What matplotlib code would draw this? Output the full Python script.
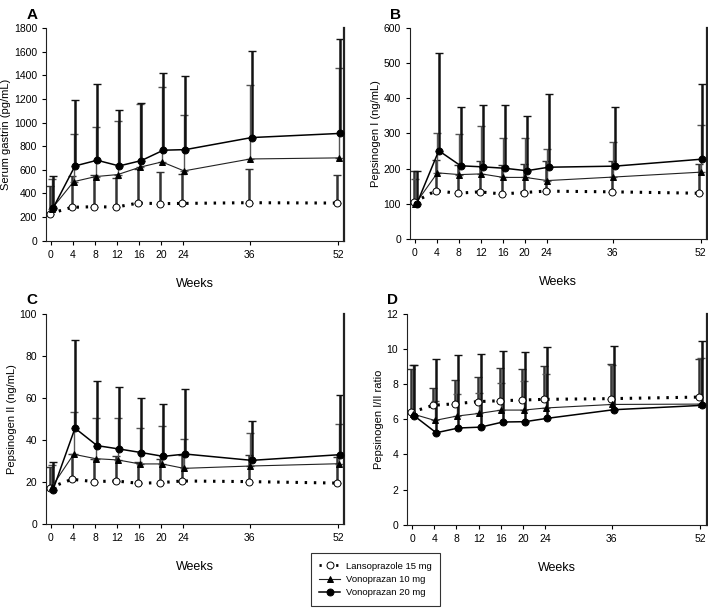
import numpy as np
import matplotlib
matplotlib.use("Agg")
import matplotlib.pyplot as plt
from matplotlib.lines import Line2D

plt.rcParams['font.family'] = ['Liberation Sans', 'DejaVu Sans']

weeks = [0, 4, 8, 12, 16, 20, 24, 36, 52]
week_labels = ['0', '4', '8', '12', '16', '20', '24', '36', '52']

# A - serum gastrin (pg/mL): mean and mean+SD
gastrin_lanso = [230, 283, 288, 285, 319, 314, 316, 322, 319]
gastrin_lanso_up = [465, 549, 560, 532, 610, 583, 566, 608, 558]
gastrin_v10 = [268, 500, 543, 560, 622, 667, 591, 692, 701]
gastrin_v10_up = [524, 900, 960, 1010, 1160, 1300, 1060, 1315, 1465]
gastrin_v20 = [274, 633, 681, 633, 678, 766, 771, 873, 908]
gastrin_v20_up = [549, 1190, 1325, 1110, 1165, 1420, 1395, 1605, 1705]

# B - pepsinogen I (ng/mL)
pg1_lanso = [104, 137, 130, 134, 128, 132, 136, 134, 130]
pg1_lanso_up = [193, 225, 210, 222, 210, 213, 222, 222, 212]
pg1_v10 = [100, 188, 183, 185, 175, 175, 166, 176, 190]
pg1_v10_up = [170, 300, 298, 320, 288, 286, 256, 275, 325]
pg1_v20 = [100, 251, 208, 205, 201, 194, 204, 207, 227]
pg1_v20_up = [193, 528, 375, 380, 382, 351, 413, 376, 440]

# C - pepsinogen II (ng/mL)
pg2_lanso = [17.3, 21.3, 20.2, 20.5, 19.4, 19.7, 20.5, 20.2, 19.5]
pg2_lanso_up = [27, 33.5, 31, 32.3, 29.7, 31, 33, 33, 32]
pg2_v10 = [17.5, 33.2, 31.1, 30.5, 28.6, 28.6, 26.5, 27.6, 28.7]
pg2_v10_up = [28, 53.3, 50.2, 50.3, 45.6, 46.5, 40.6, 43.5, 47.4]
pg2_v20 = [16.2, 45.6, 37.3, 35.7, 34.0, 32.2, 33.3, 30.3, 33.0]
pg2_v20_up = [29.5, 87.5, 68, 65, 60, 57, 64, 49, 61.5]

# D - pepsinogen I/II ratio
ratio_lanso = [6.39, 6.79, 6.88, 7.0, 7.05, 7.09, 7.13, 7.17, 7.26]
ratio_lanso_up = [8.85, 7.75, 8.25, 8.4, 8.9, 8.85, 9.0, 9.15, 9.4]
ratio_v10 = [6.3, 5.93, 6.18, 6.33, 6.52, 6.52, 6.64, 6.84, 6.86]
ratio_v10_up = [9.1, 7.05, 7.45, 7.5, 8.05, 8.2, 8.6, 9.1, 9.5]
ratio_v20 = [6.2, 5.23, 5.5, 5.55, 5.84, 5.86, 6.05, 6.54, 6.79]
ratio_v20_up = [9.1, 9.4, 9.65, 9.7, 9.9, 9.85, 10.1, 10.15, 10.45]

groups = ['Lansoprazole 15 mg', 'Vonoprazan 10 mg', 'Vonoprazan 20 mg']

panels = [
    ('A', [0.065, 0.604, 0.421, 0.350], 'Serum gastrin (pg/mL)', 1800, 200,
     [(gastrin_lanso, gastrin_lanso_up), (gastrin_v10, gastrin_v10_up), (gastrin_v20, gastrin_v20_up)]),
    ('B', [0.579, 0.607, 0.419, 0.347], 'Pepsinogen I (ng/mL)', 600, 100,
     [(pg1_lanso, pg1_lanso_up), (pg1_v10, pg1_v10_up), (pg1_v20, pg1_v20_up)]),
    ('C', [0.065, 0.138, 0.421, 0.346], 'Pepsinogen II (ng/mL)', 100, 20,
     [(pg2_lanso, pg2_lanso_up), (pg2_v10, pg2_v10_up), (pg2_v20, pg2_v20_up)]),
    ('D', [0.575, 0.137, 0.423, 0.347], 'Pepsinogen I/II ratio', 12, 2,
     [(ratio_lanso, ratio_lanso_up), (ratio_v10, ratio_v10_up), (ratio_v20, ratio_v20_up)]),
]

# style per group: (offset, marker, facecolor, line style, line width, line color, bar color, bar width)
styles = [
    (-0.2, 'o', 'white', (0, (0.8, 2.2)), 2.2, 'black', '#333333', 1.8),
    (0.1, '^', 'black', '-', 0.8, '#222222', '#555555', 1.0),
    (0.35, 'o', 'black', '-', 1.1, 'black', '#111111', 1.8),
]

fig = plt.figure(figsize=(7.08, 6.08), dpi=100)

for letter, pos, ylabel, ymax, ystep, series in panels:
    ax = fig.add_axes(pos)
    for (mean, up), st in zip(series, styles):
        off, mk, fc, ls, lw, lc, bc, bw = st
        x = np.array(weeks) + off
        mean = np.array(mean)
        up = np.array(up)
        ax.errorbar(x, mean, yerr=[np.zeros_like(mean), up - mean], fmt='none',
                    ecolor=bc, elinewidth=bw, capsize=3, capthick=1.0, zorder=2)
    for (mean, up), st in zip(series, styles):
        off, mk, fc, ls, lw, lc, bc, bw = st
        x = np.array(weeks) + off
        ax.plot(x, mean, linestyle=ls, color=lc, linewidth=lw, zorder=3)
        ax.plot(x, mean, linestyle='none', marker=mk, markersize=5 if mk == 'o' else 4.8,
                markerfacecolor=fc, markeredgecolor='black', markeredgewidth=0.7, zorder=4)
    ax.set_xlim(-0.9, 53.1)
    ax.set_ylim(0, ymax)
    ax.set_xticks(weeks)
    ax.set_xticklabels(week_labels)
    ax.set_yticks(np.arange(0, ymax + ystep / 2, ystep))
    ax.tick_params(direction='out', length=3, width=0.8, labelsize=7.5, pad=3.5)
    for sp in ax.spines.values():
        sp.set_linewidth(0.8)
        sp.set_color('#222222')
    ax.spines['right'].set_linewidth(1.6)
    ax.spines['top'].set_visible(False)
    ax.set_xlabel('Weeks', fontsize=9, labelpad=13)
    ax.set_ylabel(ylabel, fontsize=8, labelpad=2)
    fig.text(pos[0] - 0.02, pos[1] + pos[3] + 0.022, letter, fontsize=11,
             fontweight='bold', ha='center', va='center')

handles = []
for st, name in zip(styles, groups):
    off, mk, fc, ls, lw, lc, bc, bw = st
    handles.append(Line2D([], [], linestyle=ls, color=lc, linewidth=lw if mk != 'o' or fc == 'black' else 2.0,
                          marker=mk, markersize=5 if mk == 'o' else 4.8,
                          markerfacecolor=fc, markeredgecolor='black', markeredgewidth=0.7))
leg = fig.legend(handles, groups, loc='lower left', bbox_to_anchor=(0.439, 0.004),
                 fontsize=6.8, frameon=True, fancybox=False, edgecolor='black',
                 handlelength=2.2, borderpad=0.9, labelspacing=0.45, handletextpad=0.6,
                 borderaxespad=0)
leg.get_frame().set_linewidth(0.8)

fig.savefig('out.png', dpi=100)
